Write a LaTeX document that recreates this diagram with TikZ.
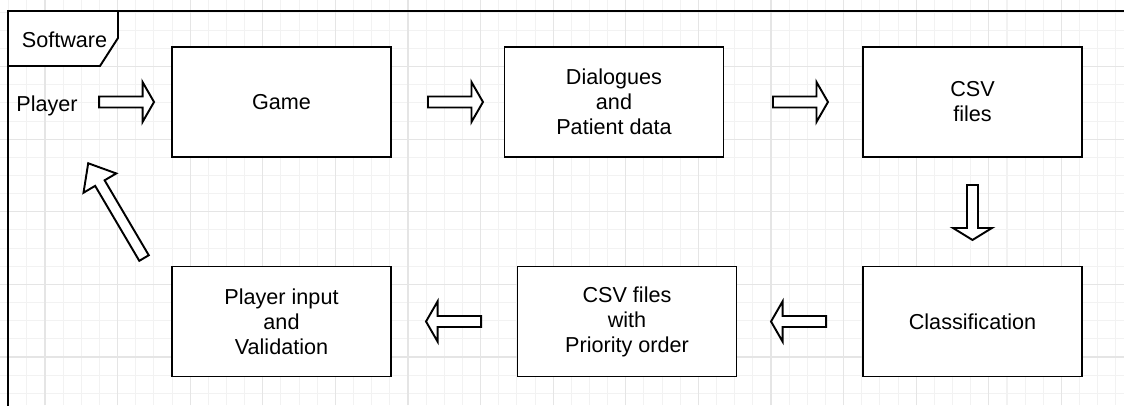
\documentclass[tikz,border=0pt]{standalone}
\usepackage{fontspec}
\setmainfont{Liberation Sans}
\usetikzlibrary{calc}

\tikzset{
  stage/.style={draw=black, line width=1.1pt, fill=white, minimum width=4.38cm,
    minimum height=2.2cm, align=center, inner sep=0pt},
  flowarrow/.style={draw=black, line width=1.1pt, fill=white, line join=miter},
  gridminor/.style={black!5, line width=0.6pt},
  gridmajor/.style={black!10, line width=0.6pt},
  %% block arrow: length, head length, head half width
  pics/blockarrow/.style n args={3}{code={
    \draw[flowarrow] (0,-0.11) -- ({#1-#2},-0.11) -- ({#1-#2},-#3) -- (#1,0)
      -- ({#1-#2},#3) -- ({#1-#2},0.11) -- (0,0.11) -- cycle;
  }},
}

\begin{document}
\begin{tikzpicture}[font=\fontsize{12.3}{14.2}\selectfont]

\useasboundingbox (0,0) rectangle (22.48,8.1);
\fill[white] (0,0) rectangle (22.48,8.1);

%% ─── Background grid ────────────────────────────────────────
\foreach \k in {0,...,61}
  \draw[gridminor] (0.174+0.363*\k,0) -- (0.174+0.363*\k,8.1);
\foreach \k in {0,...,21}
  \draw[gridminor] (0,0.234+0.363*\k) -- (22.48,0.234+0.363*\k);
\foreach \k in {2,6,...,58}
  \draw[gridmajor] (0.174+0.363*\k,0) -- (0.174+0.363*\k,8.1);
\foreach \k in {2,6,...,18}
  \draw[gridmajor] (0,0.234+0.363*\k) -- (22.48,0.234+0.363*\k);

%% ─── Frame with tab ─────────────────────────────────────────
\draw[line width=1.1pt] (0.16,-0.3) -- (0.16,7.88) -- (22.8,7.88);
\draw[line width=1.1pt, fill=white]
  (0.16,7.88) -- (2.36,7.88) -- (2.36,7.34) -- (2.0,6.78) -- (0.16,6.78) -- cycle;
\node (tab) at (1.29,7.30) {Software};

%% ─── Stages ─────────────────────────────────────────────────
\node[anchor=base west, inner xsep=0pt] (player) at (0.32,5.88) {Player};
\node[stage] (game) at (5.63,6.06) {Game};
\node[stage] (dialogues) at (12.28,6.06) {Dialogues\\and\\Patient data};
\node[stage] (csv) at (19.45,6.06) {CSV\\files};
\node[stage] (classify) at (19.45,1.67) {Classification};
\node[stage] (priority) at (12.54,1.67) {CSV files\\with\\Priority order};
\node[stage] (input) at (5.63,1.67) {Player input\\and\\Validation};

%% ─── Block arrows ───────────────────────────────────────────
\pic at ($(game.west)+(-1.44,0)$) {blockarrow={1.1}{0.23}{0.4}};
\pic at ($(game.east)+(0.72,0)$) {blockarrow={1.1}{0.23}{0.4}};
\pic at ($(dialogues.east)+(0.97,0)$) {blockarrow={1.1}{0.23}{0.4}};
\pic[rotate=-90] at ($(csv.south)+(0,-0.54)$) {blockarrow={1.1}{0.24}{0.39}};
\pic[rotate=180] at ($(classify.west)+(-0.72,0)$) {blockarrow={1.1}{0.23}{0.4}};
\pic[rotate=180] at ($(priority.west)+(-0.71,0)$) {blockarrow={1.1}{0.23}{0.4}};
%% back to the player
\pic[rotate=120.5] at ($(input.north west)+(-0.54,0.15)$) {blockarrow={2.2}{0.46}{0.38}};

\end{tikzpicture}
\end{document}
